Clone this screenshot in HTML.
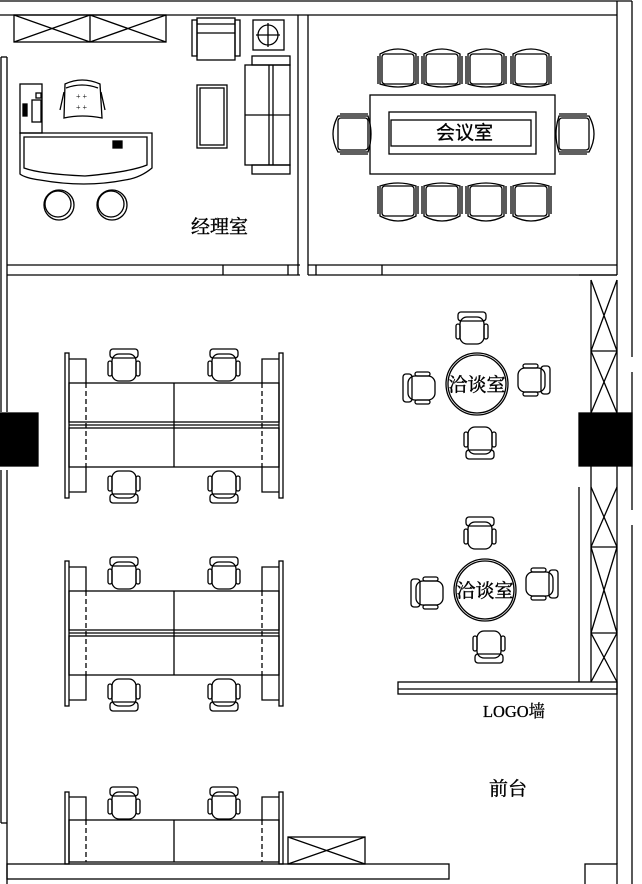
<!DOCTYPE html>
<html><head><meta charset="utf-8"><style>
html,body{margin:0;padding:0;background:#fff;}
svg{display:block;}
text{font-family:"Liberation Serif","Noto Serif CJK SC","Noto Sans CJK SC",serif;fill:#000;}
</style></head><body>
<svg width="642" height="884" viewBox="0 0 642 884" xmlns="http://www.w3.org/2000/svg" fill="none" stroke="#000" stroke-width="1.3">
<defs>
<g id="ch">
 <rect x="-14" y="-18" width="28" height="9" rx="3"/>
 <rect x="-12" y="-13" width="24" height="27" rx="7"/>
 <rect x="-16" y="-6" width="4" height="15" rx="2"/>
 <rect x="12" y="-6" width="4" height="15" rx="2"/>
</g>
<g id="cc">
 <path d="M-18,-14 Q0,-24 18,-14 L18,16 Q0,22 -18,16 Z"/>
 <rect x="-16" y="-14" width="32" height="30" rx="3"/>
 <line x1="-20" y1="-12" x2="-20" y2="16"/><line x1="20" y1="-12" x2="20" y2="16"/>
</g>
<g id="ws">
 <rect x="0" y="0" width="4" height="145"/>
 <rect x="214" y="0" width="4" height="145"/>
 <rect x="4" y="30" width="210" height="39"/>
 <rect x="4" y="75" width="210" height="39"/>
 <line x1="4" y1="72" x2="214" y2="72"/>
 <line x1="109" y1="30" x2="109" y2="114"/>
 <polyline points="4,6 21,6 21,30"/><polyline points="214,6 197,6 197,30"/>
 <polyline points="4,139 21,139 21,114"/><polyline points="214,139 197,139 197,114"/>
 <line x1="21" y1="30" x2="21" y2="114" stroke-dasharray="5,3"/>
 <line x1="197" y1="30" x2="197" y2="114" stroke-dasharray="5,3"/>
</g>
</defs>

<line x1="0" y1="1" x2="632" y2="1"/>
<line x1="0" y1="15" x2="617" y2="15"/>
<line x1="617" y1="1" x2="617" y2="275"/>
<line x1="632" y1="1" x2="632" y2="357"/>
<line x1="632" y1="372" x2="632" y2="510"/>
<line x1="632" y1="525" x2="632" y2="884"/>
<line x1="617" y1="280" x2="617" y2="864"/>
<rect x="585" y="864" width="32" height="22"/>
<line x1="1" y1="57" x2="1" y2="412"/><line x1="7" y1="57" x2="7" y2="412"/><line x1="1" y1="57" x2="7" y2="57"/>
<line x1="1" y1="470" x2="1" y2="823"/><line x1="7" y1="470" x2="7" y2="884"/><line x1="1" y1="823" x2="7" y2="823"/>
<rect x="0" y="413" width="38" height="53" fill="#000"/>
<rect x="579" y="413" width="53" height="53" fill="#000"/>
<rect x="7" y="864" width="442" height="15"/>

<line x1="7" y1="265" x2="300" y2="265"/><line x1="7" y1="275" x2="300" y2="275"/>
<line x1="298" y1="15" x2="298" y2="275"/><line x1="308" y1="15" x2="308" y2="275"/>
<line x1="223" y1="265" x2="223" y2="275"/><line x1="288" y1="265" x2="288" y2="275"/>
<line x1="308" y1="265" x2="617" y2="265"/><line x1="308" y1="275" x2="617" y2="275"/>
<line x1="316" y1="265" x2="316" y2="275"/><line x1="382" y1="265" x2="382" y2="275"/>

<rect x="14" y="15" width="152" height="27"/><line x1="90" y1="15" x2="90" y2="42"/>
<path d="M14,15 L90,42 M90,15 L14,42 M90,15 L166,42 M166,15 L90,42"/>
<rect x="197" y="18" width="38" height="42"/><rect x="192" y="20" width="5" height="36"/><rect x="235" y="20" width="5" height="36"/>
<line x1="197" y1="24" x2="235" y2="24"/><line x1="197" y1="33" x2="235" y2="33"/>
<rect x="253" y="20" width="31" height="30"/><circle cx="268" cy="35" r="10"/><path d="M256,35 H280 M268,23 V47"/>
<rect x="245" y="65" width="45" height="100"/><rect x="252" y="56" width="38" height="9"/><rect x="252" y="165" width="38" height="9"/>
<line x1="269" y1="65" x2="269" y2="165"/><line x1="273" y1="65" x2="273" y2="165"/><line x1="245" y1="115" x2="290" y2="115"/>
<rect x="197" y="85" width="30" height="63"/><rect x="200" y="88" width="24" height="57"/>
<rect x="20" y="84" width="22" height="49"/><rect x="32" y="100" width="9" height="22"/><rect x="23" y="104" width="4" height="12" fill="#000"/><rect x="36" y="93" width="5" height="5"/>
<path d="M65,84 Q82,76 100,84 L102,118 Q82,114 64,118 Z"/><path d="M66,88 Q82,82 98,88"/>
<path d="M64,92 L60,110 M101,92 L105,110"/>
<text x="76" y="99" font-size="8" stroke="none">+ +</text><text x="76" y="110" font-size="8" stroke="none">+ +</text>
<path d="M20,133 H152 V168 Q140,178 125,180 Q85,188 40,180 Q25,178 20,174 Z"/>
<path d="M24,137 H147 V165 Q130,172 85,176 Q40,174 24,168 Z"/>
<rect x="113" y="141" width="9" height="7" fill="#000"/>
<circle cx="59" cy="205" r="15"/><circle cx="58" cy="204" r="13"/>
<circle cx="112" cy="205" r="15"/><circle cx="111" cy="204" r="13"/>
<text x="191" y="233" font-size="19" stroke="#000" stroke-width="0.4">经理室</text>

<rect x="370" y="95" width="185" height="79"/>
<rect x="389" y="112" width="147" height="42"/><rect x="391" y="120" width="140" height="26"/>
<text x="436" y="139" font-size="19" stroke="#000" stroke-width="0.3" style="font-family:'Noto Sans CJK SC',sans-serif">会议室</text>
<use href="#cc" transform="translate(398,68)"/><use href="#cc" transform="translate(442,68)"/><use href="#cc" transform="translate(486,68)"/><use href="#cc" transform="translate(531,68)"/>
<use href="#cc" transform="translate(398,202) rotate(180)"/><use href="#cc" transform="translate(442,202) rotate(180)"/><use href="#cc" transform="translate(486,202) rotate(180)"/><use href="#cc" transform="translate(531,202) rotate(180)"/>
<use href="#cc" transform="translate(352,134) rotate(-90)"/><use href="#cc" transform="translate(575,134) rotate(90)"/>

<use href="#ws" transform="translate(65,353)"/>
<use href="#ws" transform="translate(65,561)"/>
<use href="#ch" transform="translate(124,367)"/><use href="#ch" transform="translate(224,367)"/>
<use href="#ch" transform="translate(124,485) rotate(180)"/><use href="#ch" transform="translate(224,485) rotate(180)"/>
<use href="#ch" transform="translate(124,575)"/><use href="#ch" transform="translate(224,575)"/>
<use href="#ch" transform="translate(124,693) rotate(180)"/><use href="#ch" transform="translate(224,693) rotate(180)"/>
<rect x="65" y="792" width="4" height="72"/><rect x="279" y="792" width="4" height="72"/>
<rect x="69" y="820" width="210" height="42"/><line x1="174" y1="820" x2="174" y2="862"/>
<polyline points="69,797 86,797 86,820"/><polyline points="279,797 262,797 262,820"/>
<line x1="86" y1="820" x2="86" y2="862" stroke-dasharray="5,3"/><line x1="262" y1="820" x2="262" y2="862" stroke-dasharray="5,3"/>
<use href="#ch" transform="translate(124,805)"/><use href="#ch" transform="translate(224,805)"/>
<rect x="288" y="837" width="77" height="27"/><path d="M288,837 L365,864 M365,837 L288,864"/>

<circle cx="477" cy="384" r="31"/><circle cx="477" cy="384" r="29"/>
<text x="477" y="391" font-size="19" text-anchor="middle" stroke="#000" stroke-width="0.4">洽谈室</text>
<use href="#ch" transform="translate(472,330)"/><use href="#ch" transform="translate(532,380) rotate(90)"/>
<use href="#ch" transform="translate(421,388) rotate(-90)"/><use href="#ch" transform="translate(480,441) rotate(180)"/>
<circle cx="485" cy="590" r="31"/><circle cx="485" cy="590" r="29"/>
<text x="485" y="597" font-size="19" text-anchor="middle" stroke="#000" stroke-width="0.4">洽谈室</text>
<use href="#ch" transform="translate(480,535)"/><use href="#ch" transform="translate(540,584) rotate(90)"/>
<use href="#ch" transform="translate(429,593) rotate(-90)"/><use href="#ch" transform="translate(489,645) rotate(180)"/>

<line x1="591" y1="280" x2="591" y2="413"/><line x1="591" y1="466" x2="591" y2="682"/>
<line x1="579" y1="487" x2="579" y2="682"/>
<path d="M591,280 L617,351 M617,280 L591,351 M591,351 H617 M591,351 L617,413 M617,351 L591,413"/>
<path d="M591,487 L617,547 M617,487 L591,547 M591,547 H617 M591,547 L617,633 M617,547 L591,633 M591,633 H617 M591,633 L617,682 M617,633 L591,682"/>
<line x1="579" y1="275" x2="617" y2="275"/>
<rect x="398" y="682" width="219" height="12"/><line x1="398" y1="689" x2="617" y2="689"/>
<text x="483" y="717" font-size="17" stroke="#000" stroke-width="0.3" textLength="62" lengthAdjust="spacingAndGlyphs">LOGO墙</text>
<text x="489" y="795" font-size="19" stroke="#000" stroke-width="0.4">前台</text>
</svg>
</body></html>
